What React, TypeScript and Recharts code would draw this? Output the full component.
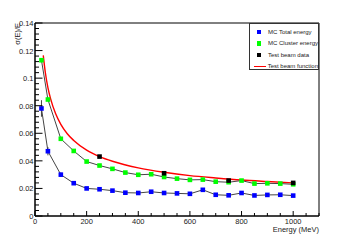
import React from 'react';
import { LineChart, Line, XAxis, YAxis, ErrorBar, Legend, ReferenceArea, Label } from 'recharts';

const energies = [25, 50, 100, 150, 200, 250, 300, 350, 400, 450, 500, 550, 600, 650, 700, 750, 800, 850, 900, 950, 1000];
const mcTotal = [0.078, 0.047, 0.030, 0.0238, 0.020, 0.0194, 0.0184, 0.0169, 0.0167, 0.0176, 0.0167, 0.0164, 0.0161, 0.019, 0.0154, 0.015, 0.0167, 0.0149, 0.0153, 0.0154, 0.0148];
const mcTotalErr = [0.006, 0.003, 0.0015, 0.001, 0.0006, 0.0005, 0.0005, 0, 0, 0, 0, 0, 0, 0, 0, 0, 0, 0, 0, 0, 0];
const mcCluster = [0.113, 0.0845, 0.056, 0.0472, 0.0395, 0.0366, 0.0342, 0.0315, 0.0299, 0.0303, 0.0283, 0.0271, 0.0262, 0.0264, 0.0249, 0.0245, 0.0257, 0.0235, 0.0237, 0.0235, 0.023];
const beamE = [250, 500, 750, 1000];
const beamData = [0.0431, 0.031, 0.0257, 0.024];
const fnE = [32, 40, 50, 60, 80, 100, 125, 150, 200, 250, 300, 400, 500, 600, 700, 800, 900, 1000];
const fnVal = [0.1165, 0.1041, 0.0932, 0.0853, 0.0741, 0.0665, 0.0597, 0.0548, 0.0478, 0.0431, 0.0397, 0.0349, 0.0317, 0.0293, 0.0276, 0.0261, 0.0250, 0.0240];

const xMajor = [0, 200, 400, 600, 800, 1000];
const xTicks = Array.from({ length: 23 }, (_, i) => i * 50);
const yTickLabels: Record<string, string> = { '0': '0', '0.02': '0.02', '0.04': '0.04', '0.06': '0.06', '0.08': '0.08', '0.1': '0.1', '0.12': '0.12', '0.14': '0.14' };
const yTicks = Array.from({ length: 36 }, (_, i) => Math.round(i * 0.004 * 1000) / 1000);

const totalData = energies.map((e, i) => ({ e, v: mcTotal[i], err: mcTotalErr[i] }));
const clusterData = energies.map((e, i) => ({ e, v: mcCluster[i] }));
const beamRows = beamE.map((e, i) => ({ e, v: beamData[i] }));
const fnRows = fnE.map((e, i) => ({ e, v: fnVal[i] }));

const FONT = '"Liberation Sans", Arial, sans-serif';

const squareDot = (color: string) => (props: any) => {
  const { cx, cy, index } = props;
  if (cx == null || cy == null) return <g key={index} />;
  return <rect key={index} x={cx - 2.3} y={cy - 2.3} width={4.6} height={4.6} fill={color} />;
};

const XTick = (props: any) => {
  const { x, y, payload } = props;
  const v = payload.value;
  const major = xMajor.includes(v);
  return (
    <g>
      <line x1={x} x2={x} y1={y} y2={y - (major ? 5 : 3)} stroke="#000" strokeWidth={1} />
      {major && (
        <text x={x} y={y + 8} textAnchor="middle" fontSize={7.5} fontFamily={FONT} fill="#222">{v}</text>
      )}
    </g>
  );
};

const YTick = (props: any) => {
  const { x, y, payload } = props;
  const key = String(payload.value);
  const label = yTickLabels[key];
  const major = label !== undefined;
  return (
    <g>
      <line x1={x} x2={x + (major ? 7.5 : 4)} y1={y} y2={y} stroke="#000" strokeWidth={1} />
      {major && (
        <text x={x - 1.5} y={y + 3} textAnchor="end" fontSize={7.5} fontFamily={FONT} fill="#222">{label}</text>
      )}
    </g>
  );
};

const legendItems = [
  { name: 'MC Total energy', color: '#0000ff', kind: 'square' },
  { name: 'MC Cluster energy', color: '#00ff00', kind: 'square' },
  { name: 'Test beam data', color: '#000000', kind: 'square' },
  { name: 'Test beam function', color: '#ff0000', kind: 'line' },
];

const LegendBox = () => (
  <div style={{ width: 70, height: 47, border: '1px solid #333', background: '#fff', boxSizing: 'border-box', fontFamily: FONT, fontSize: 6, color: '#222', paddingTop: 2 }}>
    {legendItems.map((it) => (
      <div key={it.name} style={{ display: 'flex', alignItems: 'center', height: 11.5, whiteSpace: 'nowrap' }}>
        <div style={{ width: 17, display: 'flex', justifyContent: 'center', alignItems: 'center' }}>
          {it.kind === 'square' ? (
            <div style={{ width: 4.5, height: 4.5, background: it.color, marginLeft: 1 }} />
          ) : (
            <div style={{ width: 12, height: 1.5, background: it.color, marginLeft: 3 }} />
          )}
        </div>
        <span style={{ marginLeft: 1 }}>{it.name}</span>
      </div>
    ))}
  </div>
);

export default function App() {
  return (
    <div style={{ position: 'absolute', left: 0, top: 0, width: 355, height: 240, background: '#fff' }}>
      <LineChart width={355} height={240} margin={{ top: 23, right: 36, bottom: 0, left: 0 }}>
        <XAxis
          dataKey="e"
          type="number"
          domain={[0, 1100]}
          ticks={xTicks}
          interval={0}
          tickSize={0}
          tickMargin={0}
          height={24}
          axisLine={{ stroke: '#000' }}
          tick={<XTick />}
          tickLine={false}
        >
          <Label
            content={() => (
              <text x={319} y={232} textAnchor="end" fontSize={7.5} fontFamily={FONT} fill="#222">Energy (MeV)</text>
            )}
          />
        </XAxis>
        <YAxis
          type="number"
          domain={[0, 0.14]}
          ticks={yTicks}
          interval={0}
          tickSize={0}
          tickMargin={0}
          width={35}
          axisLine={{ stroke: '#000' }}
          tick={<YTick />}
          tickLine={false}
        >
          <Label
            content={() => (
              <text x={19.5} y={23} transform="rotate(-90 19.5 23)" textAnchor="end" fontSize={7.5} fontFamily={FONT} fill="#222">σ(E)/E</text>
            )}
          />
        </YAxis>
        <ReferenceArea x1={0} x2={1100} y1={0} y2={0.14} fill="none" stroke="#000" strokeWidth={1} ifOverflow="visible" />
        <Line data={fnRows} dataKey="v" name="Test beam function" type="monotone" stroke="#ff0000" strokeWidth={1.4} dot={false} isAnimationActive={false} legendType="line" />
        <Line data={clusterData} dataKey="v" name="MC Cluster energy" type="linear" stroke="#444" strokeWidth={1} dot={squareDot('#00ff00')} isAnimationActive={false} />
        <Line data={totalData} dataKey="v" name="MC Total energy" type="linear" stroke="#444" strokeWidth={1} dot={squareDot('#0000ff')} isAnimationActive={false}>
          <ErrorBar dataKey="err" width={0} stroke="#444" strokeWidth={1} direction="y" />
        </Line>
        <Line data={beamRows} dataKey="v" name="Test beam data" type="linear" stroke="none" dot={squareDot('#000000')} isAnimationActive={false} />
        <Legend
          layout="horizontal"
          verticalAlign="middle"
          align="center"
          wrapperStyle={{ left: 249, top: 23, width: 70, height: 47 }}
          content={() => <LegendBox />}
        />
      </LineChart>
    </div>
  );
}
